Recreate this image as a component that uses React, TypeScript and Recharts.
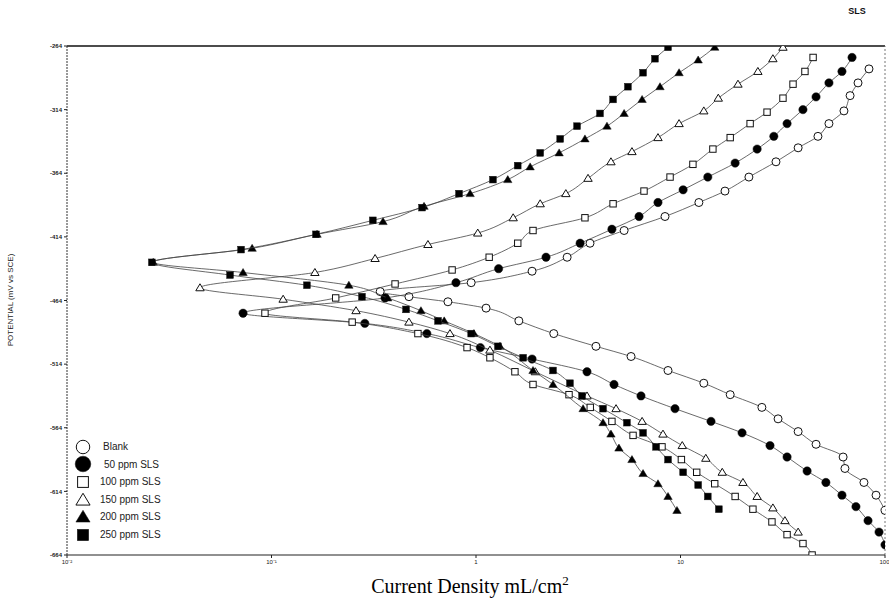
import React from 'react';
import { ScatterChart, Scatter, XAxis, YAxis, Legend, ReferenceLine } from 'recharts';

// Current density (mA/cm2) and potential (mV vs SCE)
const blankCurrent = [83.5, 73.8, 67.5, 63.0, 53.2, 47.0, 37.6, 29.3, 21.6, 16.5, 12.3, 8.40, 5.30, 3.61, 2.79, 1.88, 0.947, 0.340, 0.470, 0.729, 1.12, 1.62, 2.40, 3.86, 5.73, 8.69, 13.0, 17.5, 25.0, 30.0, 37.6, 46.0, 62.4, 63.7, 78.9, 90.4, 100];
const blankPotential = [-282, -293, -303, -315, -325, -335, -344, -355, -367, -378, -387, -398, -409, -419, -430, -441, -450, -457, -461, -465, -470, -480, -490, -500, -508, -519, -529, -538, -548, -557, -567, -577, -587, -596, -607, -617, -629];

const sls50Current = [69.0, 61.6, 53.2, 46.0, 39.7, 33.2, 28.6, 23.7, 18.5, 13.6, 10.3, 7.76, 6.27, 4.62, 3.23, 2.20, 1.29, 0.798, 0.359, 0.0726, 0.286, 0.575, 1.05, 1.88, 3.49, 4.73, 6.41, 9.40, 14.1, 20.0, 27.4, 33.2, 41.6, 51.4, 61.6, 72.1, 82.6, 93.5, 100];
const sls50Potential = [-273, -284, -293, -304, -314, -325, -335, -345, -356, -367, -377, -387, -398, -408, -419, -430, -439, -450, -462, -474, -482, -490, -501, -510, -520, -530, -539, -549, -559, -568, -578, -587, -598, -607, -617, -626, -637, -646, -656];

const sls100Current = [44.5, 40.6, 35.5, 31.7, 26.5, 21.9, 17.5, 14.4, 11.5, 8.89, 6.63, 4.68, 3.41, 1.90, 1.60, 1.16, 0.764, 0.402, 0.206, 0.0929, 0.248, 0.520, 0.904, 1.17, 1.55, 1.90, 2.85, 3.62, 4.62, 5.86, 8.12, 10.1, 12.0, 14.7, 18.5, 22.6, 28.0, 33.2, 39.7, 44.0];
const sls100Potential = [-273, -284, -294, -305, -316, -325, -336, -345, -357, -367, -378, -388, -399, -409, -419, -430, -440, -451, -462, -474, -481, -490, -501, -509, -520, -530, -538, -548, -559, -570, -579, -589, -599, -608, -618, -628, -638, -648, -655, -664];

const sls150Current = [31.7, 28.3, 23.9, 19.1, 15.3, 13.0, 9.84, 7.76, 5.79, 4.57, 3.53, 2.75, 2.06, 1.52, 1.02, 0.582, 0.321, 0.163, 0.0447, 0.114, 0.259, 0.470, 0.746, 1.17, 1.95, 3.49, 4.84, 6.49, 8.21, 10.2, 13.3, 16.0, 20.2, 23.7, 28.3, 32.4, 37.6];
const sls150Potential = [-265, -274, -284, -294, -305, -315, -325, -336, -347, -355, -368, -380, -388, -399, -411, -420, -431, -442, -454, -463, -472, -481, -490, -503, -520, -539, -549, -559, -569, -578, -588, -599, -607, -618, -627, -637, -646];

const sls200Current = [14.7, 12.2, 9.84, 7.94, 6.49, 5.30, 4.37, 3.41, 2.55, 1.84, 1.43, 0.936, 0.557, 0.351, 0.167, 0.0804, 0.0264, 0.0726, 0.239, 0.370, 0.538, 0.699, 0.977, 1.31, 1.90, 2.38, 3.34, 4.18, 4.57, 5.00, 5.79, 6.56, 7.76, 8.69, 9.61];
const sls200Potential = [-265, -275, -285, -296, -306, -317, -327, -337, -348, -359, -369, -380, -390, -402, -412, -423, -434, -442, -452, -462, -472, -480, -490, -500, -519, -530, -549, -560, -569, -580, -589, -600, -608, -618, -629];

const sls250Current = [8.69, 7.50, 6.56, 5.53, 4.68, 4.04, 3.12, 2.58, 2.06, 1.60, 1.21, 0.826, 0.545, 0.313, 0.165, 0.0710, 0.026, 0.0627, 0.149, 0.277, 0.455, 0.652, 0.947, 1.28, 1.70, 2.38, 2.88, 3.30, 4.18, 5.47, 6.56, 7.59, 8.69, 10.3, 12.2, 13.6, 15.4];
const sls250Potential = [-265, -274, -285, -296, -306, -317, -327, -337, -348, -358, -369, -380, -391, -401, -412, -424, -434, -444, -452, -461, -471, -480, -490, -500, -509, -519, -529, -539, -549, -560, -568, -579, -589, -599, -609, -618, -628];

const xTicks = [0.01, 0.1, 1, 10, 100];
const xTickLabels = ['10\u207B\u00B2', '10\u207B\u00B9', '1', '10', '100'];
const yTicks = [-664, -614, -564, -514, -464, -414, -364, -314, -264];

const seriesNames = ['Blank', '50 ppm SLS', '100 ppm SLS', '150 ppm SLS', '200 ppm SLS', '250 ppm SLS'];
const seriesKinds = ['openCircle', 'filledCircle', 'openSquare', 'openTriangle', 'filledTriangle', 'filledSquare'];

const zip = (xs: number[], ys: number[]) => xs.map((x, i) => ({ x, y: ys[i] }));

const seriesData = [
  zip(blankCurrent, blankPotential),
  zip(sls50Current, sls50Potential),
  zip(sls100Current, sls100Potential),
  zip(sls150Current, sls150Potential),
  zip(sls200Current, sls200Potential),
  zip(sls250Current, sls250Potential),
];

function Marker({ kind, cx, cy, s }: { kind: string; cx: number; cy: number; s: number }) {
  const stroke = '#111';
  switch (kind) {
    case 'openCircle':
      return <circle cx={cx} cy={cy} r={s * 0.5} fill="#fff" stroke={stroke} strokeWidth={1} />;
    case 'filledCircle':
      return <circle cx={cx} cy={cy} r={s * 0.52} fill="#000" stroke={stroke} strokeWidth={0.5} />;
    case 'openSquare': {
      const h = s * 0.4;
      return <rect x={cx - h} y={cy - h} width={2 * h} height={2 * h} fill="#fff" stroke={stroke} strokeWidth={1} />;
    }
    case 'filledSquare': {
      const h = s * 0.42;
      return <rect x={cx - h} y={cy - h} width={2 * h} height={2 * h} fill="#000" stroke={stroke} strokeWidth={0.5} />;
    }
    case 'openTriangle': {
      const h = s * 0.5;
      return <polygon points={`${cx},${cy - h} ${cx - h * 1.05},${cy + h * 0.75} ${cx + h * 1.05},${cy + h * 0.75}`} fill="#fff" stroke={stroke} strokeWidth={1} />;
    }
    default: {
      const h = s * 0.5;
      return <polygon points={`${cx},${cy - h} ${cx - h * 1.05},${cy + h * 0.75} ${cx + h * 1.05},${cy + h * 0.75}`} fill="#000" stroke={stroke} strokeWidth={0.5} />;
    }
  }
}

const makeShape = (kind: string) => (props: any) => {
  const { cx, cy } = props;
  if (cx == null || cy == null || isNaN(cx) || isNaN(cy)) return <g />;
  return <Marker kind={kind} cx={cx} cy={cy} s={8} />;
};

const LegendBox = () => (
  <div style={{ fontFamily: 'Liberation Sans, Arial, sans-serif', fontSize: 10, color: '#222', lineHeight: '17.6px' }}>
    {seriesNames.map((name, i) => (
      <div key={name} style={{ display: 'flex', alignItems: 'center', height: 17.6 }}>
        <svg width={26} height={18} style={{ display: 'block' }}>
          <Marker kind={seriesKinds[i]} cx={13} cy={9} s={i === 1 ? 15 : 13.5} />
        </svg>
        <span style={{ marginLeft: i === 1 ? 8 : i === 0 ? 7 : 4 }}>{name}</span>
      </div>
    ))}
  </div>
);

export default function App() {
  return (
    <div style={{ position: 'absolute', left: 0, top: 0, width: 889, height: 604, background: '#fff' }}>
      <ScatterChart width={889} height={604} margin={{ top: 46, right: 4, bottom: 29, left: 17 }}>
        <XAxis
          dataKey="x"
          type="number"
          scale="log"
          domain={[0.01, 100]}
          ticks={xTicks}
          allowDataOverflow
          tickFormatter={(v: number) => xTickLabels[xTicks.indexOf(v)] ?? String(v)}
          tick={{ fontSize: 6, fill: '#222', fontFamily: 'Liberation Sans, Arial' }}
          tickSize={3}
          axisLine={{ stroke: '#222', strokeWidth: 1.2 }}
          tickLine={{ stroke: '#222' }}
          height={20}
        />
        <YAxis
          dataKey="y"
          type="number"
          domain={[-664, -264]}
          ticks={yTicks}
          allowDataOverflow
          tick={{ fontSize: 6, fill: '#222', fontWeight: 'bold', fontFamily: 'Liberation Sans, Arial' }}
          tickSize={3}
          axisLine={{ stroke: '#333', strokeWidth: 1, strokeDasharray: '2 1' }}
          tickLine={{ stroke: '#222' }}
          width={50}
        />
        <ReferenceLine y={-264} stroke="#111" strokeWidth={1.6} />
        <ReferenceLine x={100} stroke="#777" strokeWidth={1} strokeDasharray="2 2" />
        {seriesData.map((d, i) => (
          <Scatter
            key={seriesNames[i]}
            name={seriesNames[i]}
            data={d}
            line={{ stroke: '#444', strokeWidth: 0.8 }}
            lineJointType="monotoneY"
            shape={makeShape(seriesKinds[i])}
            isAnimationActive={false}
          />
        ))}
        <Legend
          layout="vertical"
          verticalAlign="middle"
          align="center"
          content={() => <LegendBox />}
          wrapperStyle={{ position: 'absolute', left: 70, top: 438, width: 130, height: 110 }}
        />
      </ScatterChart>
      <svg width={889} height={604} style={{ position: 'absolute', left: 0, top: 0, pointerEvents: 'none' }}>
        <text x={857} y={14} textAnchor="middle" fontFamily="Liberation Sans, Arial, sans-serif" fontWeight="bold" fontSize={9} fill="#111">SLS</text>
        <text x={13} y={300} textAnchor="middle" transform="rotate(-90 13 300)" fontFamily="Liberation Sans, Arial, sans-serif" fontSize={8} fill="#222">POTENTIAL (mV vs SCE)</text>
        <text x={470} y={593} textAnchor="middle" fontFamily="Liberation Serif, Times New Roman, serif" fontSize={20} fill="#000">
          Current Density mL/cm<tspan dy={-8} fontSize={13}>2</tspan>
        </text>
      </svg>
    </div>
  );
}
